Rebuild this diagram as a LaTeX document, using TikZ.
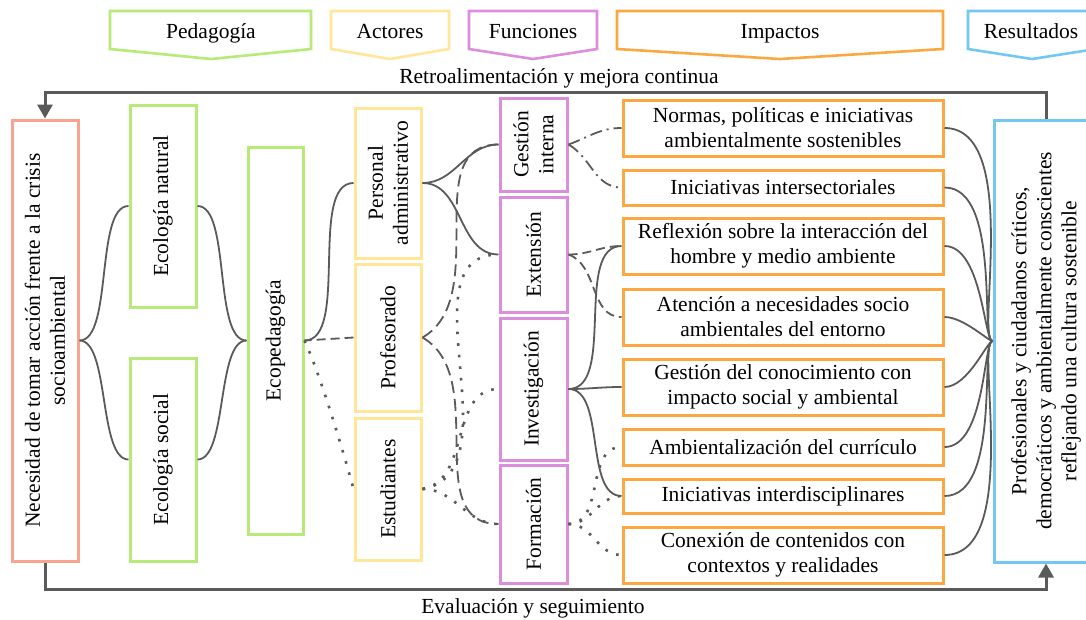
\documentclass[tikz,border=0pt]{standalone}
\usepackage{fontspec}
\setmainfont{Liberation Serif}
\usetikzlibrary{arrows.meta}
\definecolor{cSal}{HTML}{F9A391}
\definecolor{cGreen}{HTML}{B7EA78}
\definecolor{cYel}{HTML}{FFE699}
\definecolor{cPur}{HTML}{DB8EDC}
\definecolor{cOra}{HTML}{FCA842}
\definecolor{cBlue}{HTML}{72C8F2}
\definecolor{cGray}{HTML}{5A5A5A}
\begin{document}
\begin{tikzpicture}[x=1pt,y=-1pt,
  every node/.style={font=\fontsize{21.5}{25}\selectfont, inner sep=0pt, align=center},
  box/.style={draw=#1, line width=3pt, fill=white, rectangle},
  hdr/.style={draw=#1, line width=2.6pt, line join=miter},
  htxt/.style={anchor=base},
  txt/.style={rotate=90},
  con/.style={draw=cGray, line width=1.8pt},
  dsh/.style={con, dash pattern=on 9pt off 5pt},
  ldsh/.style={con, dash pattern=on 12pt off 6pt},
  ddot/.style={con, dash pattern=on 12pt off 5pt on 2pt off 5pt},
  dots/.style={draw=cGray, line width=2.6pt, dash pattern=on 2.6pt off 9pt},
  loopline/.style={draw=cGray, line width=3pt},
  fan/.style={con, out=0, in=180, out looseness=0.9, in looseness=0.2}
]
\clip (0,0) rectangle (1086,619);
\fill[white] (0,0) rectangle (1086,619);

% headers
\draw[hdr=cGreen] (110,11) -- (311,11) -- (311,49) -- (211,59) -- (110,49) -- cycle;
\node[htxt] (hPed) at (211,38) {Pedagogía};
\draw[hdr=cYel] (331,11) -- (449,11) -- (449,49) -- (390,59) -- (331,49) -- cycle;
\node[htxt] (hAct) at (390,38) {Actores};
\draw[hdr=cPur] (469,11) -- (597,11) -- (597,49) -- (533,59) -- (469,49) -- cycle;
\node[htxt] (hFun) at (533,38) {Funciones};
\draw[hdr=cOra] (617,11) -- (943,11) -- (943,49) -- (780,59) -- (617,49) -- cycle;
\node[htxt] (hImp) at (780,38) {Impactos};
\draw[hdr=cBlue] (968,11) -- (1096,11) -- (1096,49) -- (1032,59) -- (968,49) -- cycle;
\node[htxt] (hRes) at (1031,38) {Resultados};

% loop labels
\node[htxt] (fb) at (559,83) {Retroalimentación y mejora continua};
\node[htxt] (ev) at (533,613) {Evaluación y seguimiento};

% boxes
\node[box=cSal, minimum width=66pt, minimum height=441pt] (nec) at (45,340.5) {};
\node[txt] (necT) at (nec) {Necesidad de tomar acción frente a la crisis\\socioambiental};
\node[box=cGreen, minimum width=66pt, minimum height=202pt] (en) at (163,206) {};
\node[txt] (enT) at (en) {Ecología natural};
\node[box=cGreen, minimum width=66pt, minimum height=203pt] (es) at (163,459.5) {};
\node[txt] (esT) at (es) {Ecología social};
\node[box=cGreen, minimum width=55pt, minimum height=387pt] (eco) at (275.5,340.5) {};
\node[txt] (ecoT) at (eco) {Ecopedagogía};

\node[box=cYel, minimum width=66pt, minimum height=150pt] (pa) at (388,183) {};
\node[txt] (paT) at (pa) {Personal\\administrativo};
\node[box=cYel, minimum width=66pt, minimum height=147pt] (pr) at (388,337.5) {};
\node[txt] (prT) at (pr) {Profesorado};
\node[box=cYel, minimum width=66pt, minimum height=142pt] (st) at (388,489) {};
\node[txt] (stT) at (st) {Estudiantes};

\node[box=cPur, minimum width=67pt, minimum height=93pt] (gi) at (533.5,144.5) {};
\node[txt] (giT) at (gi) {Gestión\\interna};
\node[box=cPur, minimum width=67pt, minimum height=115pt] (ex) at (533.5,254.5) {};
\node[txt] (exT) at (ex) {Extensión};
\node[box=cPur, minimum width=67pt, minimum height=142pt] (inv) at (533.5,389) {};
\node[txt] (invT) at (inv) {Investigación};
\node[box=cPur, minimum width=67pt, minimum height=118pt] (fo) at (533.5,524) {};
\node[txt] (foT) at (fo) {Formación};

\node[box=cOra, minimum width=320pt, minimum height=56pt] (i1) at (783,128) {Normas, políticas e iniciativas\\ambientalmente sostenibles};
\node[box=cOra, minimum width=320pt, minimum height=35pt] (i2) at (783,187.5) {Iniciativas intersectoriales};
\node[box=cOra, minimum width=320pt, minimum height=56pt] (i3) at (783,246) {Reflexión sobre la interacción del\\hombre y medio ambiente};
\node[box=cOra, minimum width=320pt, minimum height=56pt] (i4) at (783,317) {Atención a necesidades socio\\ambientales del entorno};
\node[box=cOra, minimum width=320pt, minimum height=56pt] (i5) at (783,387) {Gestión del conocimiento con\\impacto social y ambiental};
\node[box=cOra, minimum width=320pt, minimum height=36pt] (i6) at (783,447) {Ambientalización del currículo};
\node[box=cOra, minimum width=320pt, minimum height=34pt] (i7) at (783,496) {Iniciativas interdisciplinares};
\node[box=cOra, minimum width=320pt, minimum height=56pt] (i8) at (783,555) {Conexión de contenidos con\\contextos y realidades};

\node[box=cBlue, minimum width=104pt, minimum height=442pt] (res) at (1046,341) {};
\node[txt] (resT) at (res) {Profesionales y ciudadanos críticos,\\democráticos y ambientalmente conscientes\\reflejando una cultura sostenible};

% feedback loop
\coordinate (top) at (0,92);
\coordinate (bot) at (0,589);
\draw[loopline, -{Triangle[width=15pt,length=14pt]}] (res.north) -- (res.north |- top) -| (nec.north);
\draw[loopline, -{Triangle[width=15pt,length=14pt]}] (nec.south) -- (nec.south |- bot) -| (res.south);

% solid connectors
\draw[con] (nec.east) to[out=0,in=180,looseness=0.6] (en.west);
\draw[con] (nec.east) to[out=0,in=180,looseness=0.6] (es.west);
\draw[con] (en.east) to[out=0,in=180,looseness=0.6] (eco.west);
\draw[con] (es.east) to[out=0,in=180,looseness=0.6] (eco.west);
\draw[con] (eco.east) to[out=0,in=180,looseness=0.7] (pa.west);
\draw[con] (pa.east) to[out=0,in=180] (gi.west);
\draw[con] (pa.east) to[out=0,in=180] (ex.west);
\draw[con] (inv.east) to[out=0,in=180,looseness=0.8] (i3.west);
\draw[con] (inv.east) to[out=0,in=180] (i5.west);
\draw[con] (inv.east) to[out=0,in=180,looseness=0.8] (i7.west);

% dashed
\draw[dsh] (pr.west) -- (eco.east);
\draw[ldsh] (pr.east) to[out=30,in=180] (gi.west);
\draw[ldsh] (pr.east) to[out=-30,in=180] (fo.west);
\draw[dsh] (ex.east) to[out=0,in=180] (i3.west);
\draw[dsh] (ex.east) to[out=-20,in=180] (i4.west);

% dash-dot
\draw[ddot] (gi.east) to[out=20,in=180] (i1.west);
\draw[ddot] (gi.east) to[out=-30,in=180] (i2.west);

% dotted
\draw[dots] (eco.east) to[out=-65,in=105,looseness=0.6] (st.west);
\draw[dots] (st.east) to[out=10,in=180] (ex.west);
\draw[dots] (st.east) to[out=10,in=180] (inv.west);
\draw[dots] (st.east) to[out=0,in=180] (fo.west);
\draw[dots] (fo.east) to[out=0,in=180] (i6.west);
\draw[dots] (fo.east) to[out=0,in=180] (i7.west);
\draw[dots] (fo.east) to[out=0,in=180] (i8.west);

% fan to results
\foreach \n in {i1,i2,i3,i4,i5,i6,i7,i8}
  \draw[fan] (\n.east) to (res.west);
\end{tikzpicture}
\end{document}
